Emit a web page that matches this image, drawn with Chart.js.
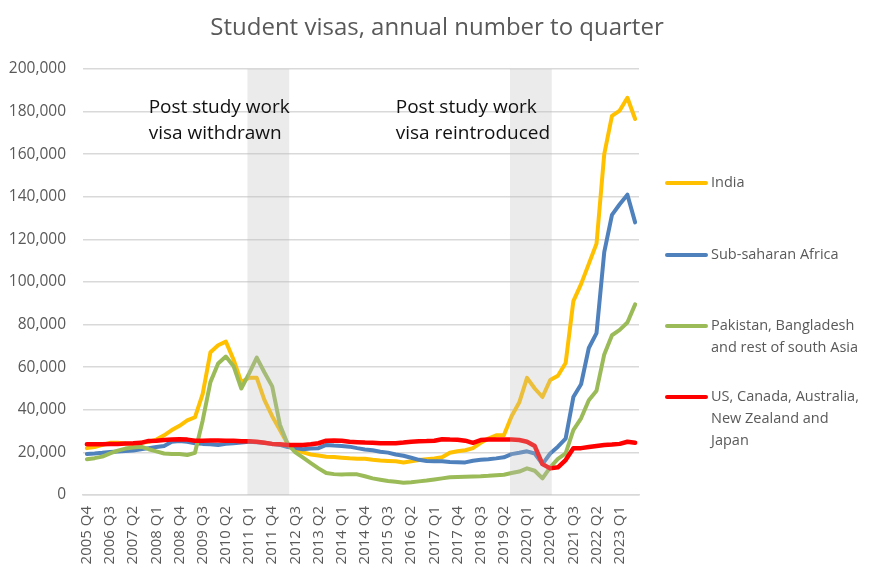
<!DOCTYPE html>
<html>
<head>
<meta charset="utf-8">
<script src="https://cdn.jsdelivr.net/npm/chart.js@4.4.1/dist/chart.umd.min.js"></script>
<style>
html,body{margin:0;padding:0;background:#ffffff;}
canvas{display:block;}
</style>
</head>
<body>
<canvas id="c" width="891" height="579"></canvas>
<script>
const categories = [
  '2005 Q4',
  '2006 Q1','2006 Q2','2006 Q3','2006 Q4',
  '2007 Q1','2007 Q2','2007 Q3','2007 Q4',
  '2008 Q1','2008 Q2','2008 Q3','2008 Q4',
  '2009 Q1','2009 Q2','2009 Q3','2009 Q4',
  '2010 Q1','2010 Q2','2010 Q3','2010 Q4',
  '2011 Q1','2011 Q2','2011 Q3','2011 Q4',
  '2012 Q1','2012 Q2','2012 Q3','2012 Q4',
  '2013 Q1','2013 Q2','2013 Q3','2013 Q4',
  '2014 Q1','2014 Q2','2014 Q3','2014 Q4',
  '2015 Q1','2015 Q2','2015 Q3','2015 Q4',
  '2016 Q1','2016 Q2','2016 Q3','2016 Q4',
  '2017 Q1','2017 Q2','2017 Q3','2017 Q4',
  '2018 Q1','2018 Q2','2018 Q3','2018 Q4',
  '2019 Q1','2019 Q2','2019 Q3','2019 Q4',
  '2020 Q1','2020 Q2','2020 Q3','2020 Q4',
  '2021 Q1','2021 Q2','2021 Q3','2021 Q4',
  '2022 Q1','2022 Q2','2022 Q3','2022 Q4',
  '2023 Q1','2023 Q2','2023 Q3'
];

const india = [22000,22500,23500,24500,24500,24200,24000,24500,25000,26000,
  28000,30500,32500,35000,36500,47500,67000,70300,72000,63500,
  53000,55000,55000,44500,37000,30500,24000,21000,20000,19000,
  18500,18000,17800,17500,17200,17000,17000,16500,16200,16000,
  15800,15300,15800,16400,16800,17200,17700,19800,20500,21000,
  22000,24500,26500,28000,28000,37000,43500,55000,50000,46000,
  54000,56000,62000,91000,99000,108500,118000,160000,178000,180500,
  186500,176500];

const subSaharanAfrica = [19300,19500,19800,20200,20400,20600,20900,21500,22000,22500,
  23000,25000,25400,25000,24300,24000,23800,23500,24000,24300,
  24600,25000,24800,24500,24000,23500,22500,22000,21500,21800,
  22000,23500,23200,23000,22700,22000,21400,21000,20300,19900,
  19000,18400,17500,16500,16000,15900,15800,15500,15400,15300,
  16100,16500,16800,17200,17700,19200,19800,20500,19500,14500,
  19500,22700,26500,46000,52000,69000,76000,114000,131500,136500,
  141000,128000];

const southAsia = [16800,17300,18000,19500,20800,21800,22300,22700,21500,20500,
  19500,19300,19200,18800,19800,35000,53000,61700,65000,60500,
  50000,57000,64500,57500,51000,33000,24000,20000,17500,15000,
  12500,10300,9800,9600,9800,9700,8800,7800,7200,6600,
  6200,5800,6000,6400,6800,7300,7800,8300,8500,8600,
  8700,8800,9000,9300,9500,10300,11000,12500,11400,7800,
  13000,17000,19500,30500,36000,44500,49000,66000,75000,77500,
  81000,89500];

const usCanadaAusNzJapan = [23800,23800,23800,24000,24000,24200,24300,24500,25400,25500,
  25800,26000,26200,26000,25500,25500,25600,25600,25500,25500,
  25200,25200,25000,24500,24000,23800,23500,23500,23500,23800,
  24300,25500,25600,25500,25000,24800,24600,24500,24300,24300,
  24300,24600,25000,25200,25300,25500,26200,26000,25900,25500,
  24500,25800,26000,26000,26000,26000,25800,25000,23000,14500,
  12500,13000,16400,21900,22000,22500,23000,23500,23700,24000,
  25000,24500];

const seriesNames = [
  ['India'],
  ['Sub-saharan Africa'],
  ['Pakistan, Bangladesh', 'and rest of south Asia'],
  ['US, Canada, Australia,', 'New Zealand and', 'Japan']
];
const seriesColors = ['#FFC000', '#4F81BD', '#9BBB59', '#FF0000'];

const bands = [['2011 Q1', '2012 Q2'], ['2019 Q3', '2020 Q4']];
const annotations = [
  { at: '2007 Q4', lines: ['Post study work', 'visa withdrawn'] },
  { at: '2015 Q4', lines: ['Post study work', 'visa reintroduced'] }
];
const titleText = 'Student visas, annual number to quarter';
const yTicks = { min: 0, max: 200000, step: 20000 };

const FONT = '"Open Sans", "Noto Sans", sans-serif';
const TEXT = '#595959';

const decor = {
  id: 'decor',
  afterDatasetsDraw(chart) {
    const { ctx, scales: { x, y } } = chart;
    const step = x.getPixelForValue(1) - x.getPixelForValue(0);
    const ext = step * 0.2;
    ctx.save();
    ctx.fillStyle = 'rgba(190,190,190,0.30)';
    bands.forEach(([a, b]) => {
      const l = x.getPixelForValue(categories.indexOf(a)) - ext;
      const r = x.getPixelForValue(categories.indexOf(b)) + ext;
      const t = y.getPixelForValue(yTicks.max);
      const btm = y.getPixelForValue(yTicks.min);
      ctx.fillRect(l, t, r - l, btm - t);
    });
    ctx.fillStyle = '#111111';
    ctx.font = '19px ' + FONT;
    ctx.textAlign = 'left';
    ctx.textBaseline = 'alphabetic';
    annotations.forEach(an => {
      const ax = x.getPixelForValue(categories.indexOf(an.at));
      an.lines.forEach((ln, k) => ctx.fillText(ln, ax, 113 + k * 26));
    });
    ctx.restore();
  },
  afterDraw(chart) {
    const { ctx } = chart;
    ctx.save();
    ctx.fillStyle = TEXT;
    ctx.font = '24px ' + FONT;
    ctx.textAlign = 'center';
    ctx.textBaseline = 'middle';
    ctx.fillText(titleText, 437, 28);
    const ys = [183, 255, 326, 397];
    ctx.font = '14.5px ' + FONT;
    ctx.textAlign = 'left';
    seriesNames.forEach((lines, k) => {
      ctx.strokeStyle = seriesColors[k];
      ctx.lineWidth = 4;
      ctx.lineCap = 'round';
      ctx.beginPath();
      ctx.moveTo(667, ys[k]);
      ctx.lineTo(706, ys[k]);
      ctx.stroke();
      lines.forEach((ln, j) => ctx.fillText(ln, 711, ys[k] + j * 22));
    });
    ctx.restore();
  }
};

const datasets = [india, subSaharanAfrica, southAsia, usCanadaAusNzJapan].map((d, k) => ({
  label: seriesNames[k].join(' '),
  data: d,
  borderColor: seriesColors[k],
  backgroundColor: seriesColors[k],
  borderWidth: k === 3 ? 4.5 : 4,
  pointRadius: 0,
  tension: 0,
  borderJoinStyle: 'round',
  borderCapStyle: 'round',
  fill: false,
  order: 4 - k
}));

new Chart(document.getElementById('c'), {
  type: 'line',
  data: { labels: categories, datasets },
  options: {
    responsive: false,
    animation: false,
    layout: { padding: { top: 69, right: 252, left: 0, bottom: 0 } },
    plugins: { legend: { display: false }, tooltip: { enabled: false }, title: { display: false } },
    scales: {
      x: {
        type: 'category',
        offset: true,
        grid: { display: false, drawTicks: false },
        border: { display: true, color: '#d9d9d9', width: 1.5 },
        ticks: {
          autoSkip: false, maxRotation: 90, minRotation: 90, padding: 11,
          color: TEXT, font: { family: FONT, size: 15 },
          callback: (v, i) => (i % 3 === 0 ? categories[i] : '')
        },
        afterFit: s => { s.height = 84; }
      },
      y: {
        min: yTicks.min, max: yTicks.max,
        grid: { color: '#d9d9d9', lineWidth: 1.5, drawTicks: false },
        border: { display: false },
        ticks: {
          stepSize: yTicks.step, padding: 17, color: TEXT, font: { family: FONT, size: 15.5 },
          callback: v => v.toLocaleString('en-US')
        },
        afterFit: s => { s.width = 83; }
      }
    }
  },
  plugins: [decor]
});
</script>
</body>
</html>
